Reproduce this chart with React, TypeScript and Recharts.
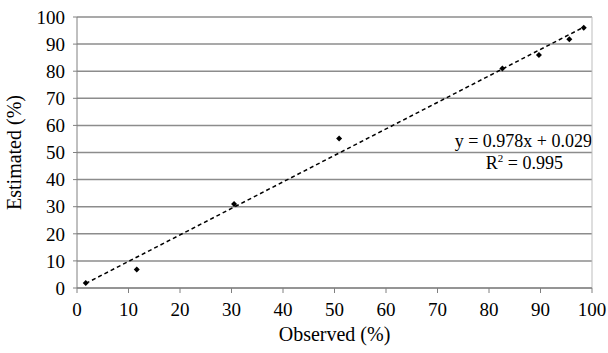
import React from 'react';
import {
  ScatterChart, Scatter, XAxis, YAxis, CartesianGrid, ReferenceLine, Label,
} from 'recharts';

const observed = [1.7, 11.6, 30.5, 50.9, 82.6, 89.7, 95.6, 98.4];
const estimated = [1.8, 6.8, 31, 55.2, 81, 86, 91.8, 96];
const xTicks = [0, 10, 20, 30, 40, 50, 60, 70, 80, 90, 100];
const yTicks = [0, 10, 20, 30, 40, 50, 60, 70, 80, 90, 100];
const slope = 0.978;
const intercept = 0.029;
const equationText = 'y = 0.978x + 0.029';
const r2Text = '0.995';

const points = observed.map((x, i) => ({ x, y: estimated[i] }));
const xMin = Math.min(...observed);
const xMax = Math.max(...observed);
const trend = [
  { x: xMin, y: slope * xMin + intercept },
  { x: xMax, y: slope * xMax + intercept },
];

const FONT = 'Liberation Serif';

const Diamond = (props: any) => {
  const { cx, cy } = props;
  if (cx == null || cy == null) return null;
  const r = 3;
  return (
    <path d={`M${cx},${cy - r}L${cx + r},${cy}L${cx},${cy + r}L${cx - r},${cy}Z`} fill="#000" />
  );
};

export default function App() {
  return (
    <div style={{ position: 'absolute', left: 0, top: 0, width: 608, height: 353, background: '#fff', fontFamily: FONT }}>
      <ScatterChart width={608} height={353} margin={{ top: 17, right: 16, bottom: 0, left: 0 }} style={{ fontFamily: FONT }}>
        <CartesianGrid vertical={false} stroke="#8c8c8c" strokeWidth={1.5} />
        <XAxis
          type="number"
          dataKey="x"
          domain={[0, 100]}
          ticks={xTicks}
          interval={0}
          height={65}
          tickSize={5}
          tickMargin={10}
          stroke="#808080"
          tick={{ fill: '#000', fontSize: 19, fontFamily: FONT }}
        >
          <Label value="Observed (%)" position="insideBottom" offset={12} fill="#000" fontSize={20} fontFamily={FONT} />
        </XAxis>
        <YAxis
          type="number"
          dataKey="y"
          domain={[0, 100]}
          ticks={yTicks}
          interval={0}
          width={77}
          tickSize={4}
          tickMargin={8}
          stroke="#808080"
          tick={{ fill: '#000', fontSize: 19, fontFamily: FONT }}
        >
          <Label value="Estimated (%)" angle={-90} position="insideLeft" offset={14} fill="#000" fontSize={20} fontFamily={FONT} style={{ textAnchor: 'middle' }} />
        </YAxis>
        <ReferenceLine x={100} stroke="#bdbdbd" strokeWidth={1} />
        <Scatter
          data={trend}
          line={{ stroke: '#000', strokeWidth: 1.5, strokeDasharray: '4 3' }}
          lineType="joint"
          shape={() => null}
          isAnimationActive={false}
        />
        <Scatter data={points} shape={<Diamond />} isAnimationActive={false} />
        <text x={592} y={147} textAnchor="end" fontFamily={FONT} fontSize={18} fill="#000">{equationText}</text>
        <text x={563} y={169} textAnchor="end" fontFamily={FONT} fontSize={18} fill="#000">
          R<tspan fontSize={11} dy={-7}>2</tspan><tspan dy={7}>{' = ' + r2Text}</tspan>
        </text>
      </ScatterChart>
    </div>
  );
}
